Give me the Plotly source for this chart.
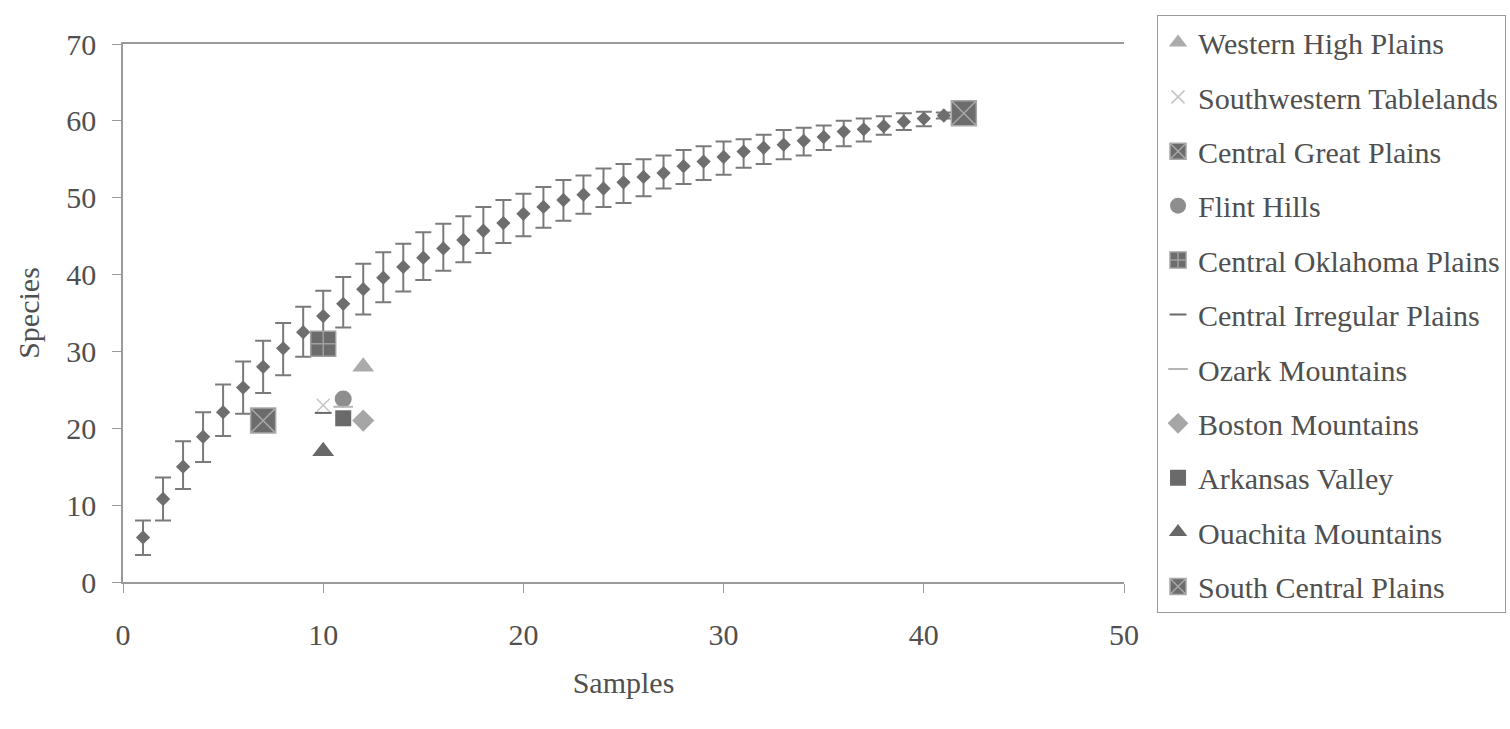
import plotly.graph_objects as go

# Rarefaction curve (all samples)
samples = list(range(1, 42))
species = [5.8, 10.8, 15.0, 18.9, 22.1, 25.3, 28.0, 30.4, 32.5, 34.6, 36.2, 38.1, 39.6, 41.0,
           42.2, 43.4, 44.5, 45.7, 46.7, 47.9, 48.8, 49.7, 50.4, 51.2, 52.0, 52.7, 53.2, 54.1,
           54.7, 55.3, 56.0, 56.5, 56.9, 57.4, 57.9, 58.6, 58.9, 59.3, 59.9, 60.3, 60.7]
err_plus = [2.2, 2.8, 3.3, 3.2, 3.6, 3.4, 3.4, 3.3, 3.3, 3.3, 3.5, 3.3, 3.3, 3.0, 3.3, 3.2,
            3.1, 3.1, 3.0, 2.6, 2.6, 2.6, 2.5, 2.6, 2.4, 2.3, 2.3, 2.1, 2.0, 2.0, 1.6, 1.7,
            1.9, 1.7, 1.5, 1.4, 1.4, 1.3, 1.1, 0.9, 0.4]
err_minus = [2.3, 2.8, 2.9, 3.3, 3.1, 3.4, 3.4, 3.5, 3.2, 3.3, 3.1, 3.3, 3.2, 3.2, 2.9, 2.9,
             2.9, 2.9, 2.6, 2.9, 2.7, 2.7, 2.5, 2.4, 2.7, 2.5, 2.0, 2.3, 2.4, 2.3, 2.1, 2.1,
             1.9, 1.9, 1.7, 1.9, 1.6, 1.1, 1.1, 1.0, 0.4]

# Ecoregions: (name, samples, species)
regions = ["Western High Plains", "Southwestern Tablelands", "Central Great Plains", "Flint Hills",
           "Central Oklahoma Plains", "Central Irregular Plains", "Ozark Mountains",
           "Boston Mountains", "Arkansas Valley", "Ouachita Mountains", "South Central Plains"]
region_samples = [12, 10, 42, 11, 10, 10, 11, 12, 11, 10, 7]
region_species = [28, 23, 61, 23.8, 31, 22, 22.8, 21, 21.3, 17, 21]

styles = {
    "Western High Plains": dict(symbol="triangle-up", size=19, color="#ababab", line=dict(width=0)),
    "Southwestern Tablelands": dict(symbol="x-thin", size=13, color="#c4c4c4", line=dict(width=1.5, color="#c4c4c4")),
    "Central Great Plains": dict(symbol="square-x", size=25, color="#6c6c6c", line=dict(width=1.5, color="#a8a8a8")),
    "Flint Hills": dict(symbol="circle", size=17, color="#8e8e8e", line=dict(width=0)),
    "Central Oklahoma Plains": dict(symbol="square-cross", size=25, color="#6c6c6c", line=dict(width=1.5, color="#a0a0a0")),
    "Central Irregular Plains": dict(symbol="line-ew", size=12, color="#6a6a6a", line=dict(width=2, color="#6a6a6a")),
    "Ozark Mountains": dict(symbol="line-ew", size=14, color="#b5b5b5", line=dict(width=2, color="#b5b5b5")),
    "Boston Mountains": dict(symbol="diamond", size=17, color="#a6a6a6", line=dict(width=0)),
    "Arkansas Valley": dict(symbol="square", size=16, color="#6a6a6a", line=dict(width=0)),
    "Ouachita Mountains": dict(symbol="triangle-up", size=19, color="#686868", line=dict(width=0)),
    "South Central Plains": dict(symbol="square-x", size=25, color="#6c6c6c", line=dict(width=1.5, color="#a8a8a8")),
}

FONT = "Liberation Serif, Times New Roman, serif"
TXT = "#505050"

fig = go.Figure()
fig.add_trace(go.Scatter(
    x=samples, y=species, mode="markers", showlegend=False,
    marker=dict(symbol="diamond", size=11, color="#6e6e6e"),
    error_y=dict(type="data", symmetric=False, array=err_plus, arrayminus=err_minus,
                 color="#7a7a7a", thickness=2, width=8),
))

for i, name in enumerate(regions):
    fig.add_trace(go.Scatter(
        x=[region_samples[i]], y=[region_species[i]], mode="markers", name=name,
        legendgroup=name, marker=styles[name],
    ))

fig.update_layout(
    width=1510, height=729,
    paper_bgcolor="white", plot_bgcolor="white",
    margin=dict(l=123, r=386, t=44, b=147, autoexpand=False),
    font=dict(family=FONT, size=30, color=TXT),
    legend=dict(
        x=1.033, xanchor="left", y=1.053, yanchor="top",
        traceorder="grouped", tracegroupgap=12.4, maxheight=720,
        bordercolor="#9a9a9a", borderwidth=1, bgcolor="white",
        font=dict(family=FONT, size=30, color=TXT),
    ),
    xaxis=dict(
        range=[0, 50], dtick=10, tick0=0, showgrid=False, zeroline=False,
        showline=True, linecolor="#9a9a9a", linewidth=1.5, mirror=True,
        ticks="outside", ticklen=9, tickcolor="#9a9a9a", ticklabelstandoff=16,
        title=dict(text="Samples", standoff=22, font=dict(size=30)),
    ),
    yaxis=dict(
        range=[0, 70], dtick=10, tick0=0, showgrid=False, zeroline=False,
        showline=True, linecolor="#9a9a9a", linewidth=1.5,
        ticks="outside", ticklen=9, tickcolor="#9a9a9a", ticklabelstandoff=10,
        title=dict(text="Species", standoff=18, font=dict(size=30)),
    ),
)

fig.write_html("out.html")
